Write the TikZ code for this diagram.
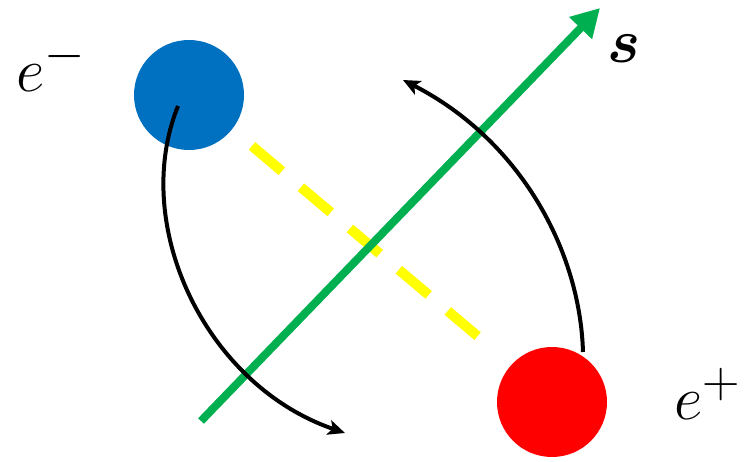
\documentclass[tikz,border=0pt]{standalone}
\usepackage{amsmath,bm,graphicx}
\usetikzlibrary{arrows.meta}
\definecolor{eblue}{HTML}{0070C0}
\definecolor{ered}{HTML}{FF0000}
\definecolor{sgreen}{HTML}{00B050}
\definecolor{lyellow}{HTML}{FFFF00}
\newcommand{\bigmath}[1]{\scalebox{2.5}{\Huge$#1$}}
\tikzset{
  particle/.style={circle,inner sep=0pt,minimum size=110pt},
  orbit/.style={line width=4pt,black,-{Stealth[length=17pt,width=15pt,inset=4pt]}},
  lbl/.style={inner sep=0pt},
}
\begin{document}
\begin{tikzpicture}[x=1pt,y=-1pt]
\useasboundingbox (0,0) rectangle (753,462);
\node[particle,fill=eblue] (em) at (189,95) {};
\node[particle,fill=ered] (ep) at (552,402) {};
\coordinate (y1) at (252,146);
\coordinate (y2) at (481,339);
\draw[lyellow,line width=10pt,dash pattern=on 39pt off 25pt] (y1) -- (y2);
\coordinate (g1) at (201,421);
\coordinate (g2) at (600,8);
\draw[sgreen,line width=8pt,-{Triangle[length=28pt,width=30pt]}] (g1) -- (g2);
\coordinate (c1s) at (178,106);
\coordinate (c1e) at (345,433);
\draw[orbit] (c1s) .. controls (130,225) and (205,385) .. (c1e);
\coordinate (c2s) at (583,352);
\coordinate (c2e) at (403,80);
\draw[orbit] (c2s) .. controls (580,250) and (520,140) .. (c2e);
\node[lbl,anchor=base west] (lem) at (16,92) {\bigmath{e^{-}}};
\node[lbl,anchor=base west] (lep) at (674,420) {\bigmath{e^{+}}};
\node[lbl,anchor=base west] (ls) at (607,63) {\bigmath{\bm{s}}};
\end{tikzpicture}
\end{document}
